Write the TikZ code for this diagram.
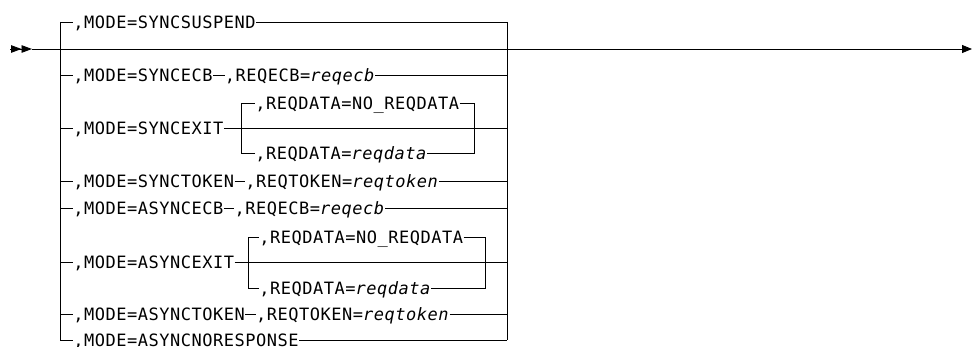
\documentclass[tikz,border=0pt]{standalone}
\usepackage{fontspec}
\usetikzlibrary{arrows.meta}
\newfontfamily\synfont[LetterSpace=3,ItalicFont={DejaVu Sans Mono Oblique}]{DejaVu Sans Mono}

\begin{document}
\begin{tikzpicture}[x=1pt, y=-1pt, line width=0.9pt,
  kw/.style={font=\synfont\fontsize{17}{20}\selectfont, inner xsep=0pt, inner ysep=0pt, text height=12.2pt, text depth=0pt, anchor=west}]
  \useasboundingbox (0,0) rectangle (974,347);

  % main line and outer brackets
  \coordinate (start) at (10,49);
  \coordinate (entry) at (32,49);
  \coordinate (exit) at (972,49);
  \coordinate (lt) at (60,22);
  \coordinate (lb) at (60,340);
  \coordinate (rt) at (507,22);
  \coordinate (rb) at (507,340);
  \draw[-{Triangle[length=10.5pt,width=7.5pt] Triangle[length=10.5pt,width=7.5pt]}] (start) -- (entry);
  \draw[-{Triangle[length=10pt,width=8pt]}] (entry) -- (exit);
  \draw (lt) -- (lb);
  \draw (rt) -- (rb);

  % SYNCSUSPEND
  \node[kw] (m1) at (73,22) {,MODE=SYNCSUSPEND};
  \draw (lt) -- (m1.west);
  \draw (m1.east) -- (rt);

  % SYNCECB
  \node[kw] (m2) at (73,75) {,MODE=SYNCECB};
  \node[kw] (e2) at (224.5,75) {,REQECB=\textit{reqecb}};
  \draw (lt |- m2.west) -- (m2.west);
  \draw (m2.east) -- (e2.west);
  \draw (e2.east) -- (rt |- e2.east);

  % SYNCEXIT
  \node[kw] (m3) at (73,128) {,MODE=SYNCEXIT};
  \node[kw] (d3) at (255,103) {,REQDATA=NO\_REQDATA};
  \node[kw] (v3) at (255,153) {,REQDATA=\textit{reqdata}};
  \coordinate (i3l) at (241,128);
  \coordinate (i3r) at (474,128);
  \draw (lt |- m3.west) -- (m3.west);
  \draw (m3.east) -- (rt |- m3.east);
  \draw (v3.west) -| (i3l |- d3.west) -- (d3.west);
  \draw (d3.east) -| (i3r |- v3.east) -- (v3.east);

  % SYNCTOKEN
  \node[kw] (m4) at (73,181) {,MODE=SYNCTOKEN};
  \node[kw] (e4) at (245,181) {,REQTOKEN=\textit{reqtoken}};
  \draw (lt |- m4.west) -- (m4.west);
  \draw (m4.east) -- (e4.west);
  \draw (e4.east) -- (rt |- e4.east);

  % ASYNCECB
  \node[kw] (m5) at (73,208) {,MODE=ASYNCECB};
  \node[kw] (e5) at (234.25,208) {,REQECB=\textit{reqecb}};
  \draw (lt |- m5.west) -- (m5.west);
  \draw (m5.east) -- (e5.west);
  \draw (e5.east) -- (rt |- e5.east);

  % ASYNCEXIT
  \node[kw] (m6) at (73,262) {,MODE=ASYNCEXIT};
  \node[kw] (d6) at (259,237) {,REQDATA=NO\_REQDATA};
  \node[kw] (v6) at (259,288) {,REQDATA=\textit{reqdata}};
  \coordinate (i6l) at (248,262);
  \coordinate (i6r) at (485,262);
  \draw (lt |- m6.west) -- (m6.west);
  \draw (m6.east) -- (rt |- m6.east);
  \draw (v6.west) -| (i6l |- d6.west) -- (d6.west);
  \draw (d6.east) -| (i6r |- v6.east) -- (v6.east);

  % ASYNCTOKEN
  \node[kw] (m7) at (73,314) {,MODE=ASYNCTOKEN};
  \node[kw] (e7) at (255.75,314) {,REQTOKEN=\textit{reqtoken}};
  \draw (lt |- m7.west) -- (m7.west);
  \draw (m7.east) -- (e7.west);
  \draw (e7.east) -- (rt |- e7.east);

  % ASYNCNORESPONSE
  \node[kw] (m8) at (73,340) {,MODE=ASYNCNORESPONSE};
  \draw (lb) -- (m8.west);
  \draw (m8.east) -- (rb);
\end{tikzpicture}
\end{document}
